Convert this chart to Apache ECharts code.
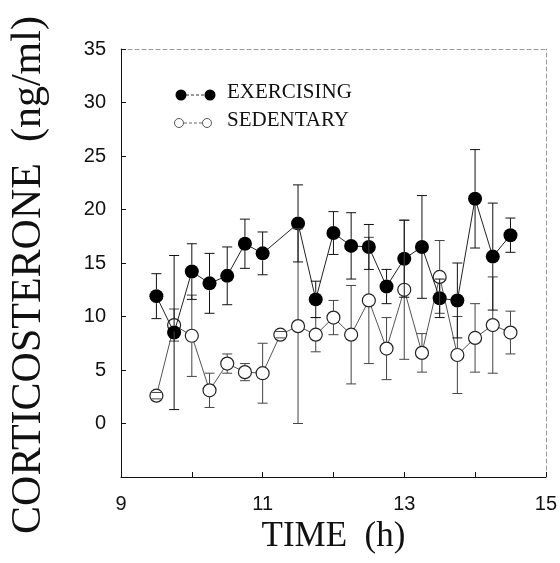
<!DOCTYPE html>
<html>
<head>
<meta charset="utf-8">
<script src="https://cdn.jsdelivr.net/npm/echarts@6/dist/echarts.min.js"></script>
<style>
html, body { margin: 0; padding: 0; background: #fff; }
#chart { width: 560px; height: 563px; }
</style>
</head>
<body>
<div id="chart"></div>
<script>
// exercising group (no sample at 11.25 h)
const exTime = [9.5, 9.75, 10, 10.25, 10.5, 10.75, 11, 11.5, 11.75, 12, 12.25, 12.5, 12.75, 13, 13.25, 13.5, 13.75, 14, 14.25, 14.5];
const exMean = [11.9, 8.5, 14.2, 13.1, 13.8, 16.8, 15.9, 18.7, 11.6, 17.8, 16.6, 16.5, 12.8, 15.4, 16.5, 11.7, 11.5, 21.0, 15.6, 17.6];
const exSem  = [2.1, 7.2, 2.6, 2.8, 2.7, 2.3, 2.0, 3.6, 1.7, 2.0, 3.1, 2.1, 1.6, 3.6, 4.8, 1.8, 3.5, 4.6, 5.0, 1.6];

// sedentary group
const sedTime = [9.5, 9.75, 10, 10.25, 10.5, 10.75, 11, 11.25, 11.5, 11.75, 12, 12.25, 12.5, 12.75, 13, 13.25, 13.5, 13.75, 14, 14.25, 14.5];
const sedMean = [2.6, 9.2, 8.2, 3.1, 5.6, 4.8, 4.7, 8.3, 9.1, 8.3, 9.9, 8.3, 11.5, 7.0, 12.5, 6.6, 13.7, 6.4, 8.0, 9.2, 8.5];
const sedSem  = [0.3, 1.5, 3.8, 1.6, 0.9, 0.8, 2.8, 0.3, 9.1, 1.6, 1.6, 4.6, 5.9, 2.9, 6.5, 1.8, 3.4, 3.6, 3.2, 4.5, 2.0];

const legendNames = ['EXERCISING', 'SEDENTARY'];

const serif = '"Liberation Serif", "DejaVu Serif", serif';
const sans = '"Liberation Sans", Arial, sans-serif';

const chart = echarts.init(document.getElementById('chart'));

// error bar: vertical line with caps, gap left where the marker sits
function errorBars(color, r) {
    return function (params, api) {
        const x = api.value(0), m = api.value(1), s = api.value(2);
        const top = api.coord([x, m + s]);
        const mid = api.coord([x, m]);
        const bot = api.coord([x, m - s]);
        const cap = 5;
        const lines = [];
        if (top[1] < mid[1] - r) lines.push([mid[0], top[1], mid[0], mid[1] - r]);
        if (bot[1] > mid[1] + r) lines.push([mid[0], mid[1] + r, mid[0], bot[1]]);
        lines.push([mid[0] - cap, top[1], mid[0] + cap, top[1]]);
        lines.push([mid[0] - cap, bot[1], mid[0] + cap, bot[1]]);
        return {
            type: 'group',
            children: lines.map(l => ({
                type: 'line',
                shape: { x1: l[0], y1: l[1], x2: l[2], y2: l[3] },
                style: { stroke: color, lineWidth: 1 }
            }))
        };
    };
}

chart.setOption({
    animation: false,
    backgroundColor: '#fff',
    grid: { left: 118, right: 14, top: 49, bottom: 86 },
    xAxis: [{
        type: 'value',
        min: 9, max: 15, interval: 2,
        name: 'TIME  (h)',
        nameLocation: 'middle',
        nameGap: 41,
        nameTextStyle: { fontFamily: serif, fontSize: 35, color: '#111' },
        axisLine: { onZero: false, lineStyle: { color: '#111', width: 1 } },
        axisTick: { inside: true, length: 5, lineStyle: { color: '#111' } },
        minorTick: { show: true, splitNumber: 2, length: 5, lineStyle: { color: '#111' } },
        axisLabel: { fontFamily: sans, fontSize: 20, color: '#111', margin: 17 },
        splitLine: { show: false }
    }, {
        type: 'value', position: 'top',
        min: 9, max: 15,
        axisLine: { show: true, onZero: false, lineStyle: { color: '#999', type: [4, 3] } },
        axisTick: { show: false }, axisLabel: { show: false }, splitLine: { show: false }
    }],
    yAxis: [{
        type: 'value',
        min: -5, max: 35, interval: 5,
        name: 'CORTICOSTERONE  (ng/ml)',
        nameLocation: 'middle',
        nameGap: 71,
        nameTextStyle: { fontFamily: serif, fontSize: 42, color: '#111', padding: [0, 24, 0, 0] },
        axisLine: { show: true, onZero: false, lineStyle: { color: '#111', width: 1 } },
        axisTick: { show: true, inside: true, length: 5, lineStyle: { color: '#111' } },
        axisLabel: {
            fontFamily: sans, fontSize: 20, color: '#111', margin: 15,
            formatter: v => (v < 0 ? '' : String(v))
        },
        splitLine: { show: false }
    }, {
        type: 'value', position: 'right',
        min: -5, max: 35,
        axisLine: { show: true, onZero: false, lineStyle: { color: '#999', type: [4, 3] } },
        axisTick: { show: false }, axisLabel: { show: false }, splitLine: { show: false }
    }],
    series: [
        {
            name: legendNames[1],
            type: 'line',
            data: sedTime.map((t, i) => [t, sedMean[i]]),
            symbol: 'circle',
            symbolSize: 13,
            itemStyle: { color: '#fff', borderColor: '#222', borderWidth: 1.2 },
            lineStyle: { color: '#555', width: 1 },
            z: 3
        },
        {
            name: legendNames[0],
            type: 'line',
            data: exTime.map((t, i) => [t, exMean[i]]),
            symbol: 'circle',
            symbolSize: 14,
            itemStyle: { color: '#000' },
            lineStyle: { color: '#222', width: 1 },
            z: 4
        },
        {
            type: 'custom',
            data: sedTime.map((t, i) => [t, sedMean[i], sedSem[i]]),
            renderItem: errorBars('#444', 6.5),
            encode: { x: 0, y: 1 },
            z: 5
        },
        {
            type: 'custom',
            data: exTime.map((t, i) => [t, exMean[i], exSem[i]]),
            renderItem: errorBars('#111', 7),
            encode: { x: 0, y: 1 },
            z: 5
        }
    ],
    graphic: [
        { type: 'line', shape: { x1: 181, y1: 95, x2: 210, y2: 95 }, style: { stroke: '#333', lineWidth: 1, lineDash: [3, 2] } },
        { type: 'circle', shape: { cx: 181, cy: 95, r: 5.5 }, style: { fill: '#000' } },
        { type: 'circle', shape: { cx: 210, cy: 95, r: 5.5 }, style: { fill: '#000' } },
        { type: 'text', left: 227, top: 82, style: { text: legendNames[0], font: '21px ' + serif, fill: '#111' } },
        { type: 'line', shape: { x1: 179, y1: 123, x2: 207, y2: 123 }, style: { stroke: '#666', lineWidth: 1, lineDash: [3, 2] } },
        { type: 'circle', shape: { cx: 179, cy: 123, r: 4.5 }, style: { fill: '#fff', stroke: '#555', lineWidth: 1 } },
        { type: 'circle', shape: { cx: 207, cy: 123, r: 4.5 }, style: { fill: '#fff', stroke: '#555', lineWidth: 1 } },
        { type: 'text', left: 227, top: 110, style: { text: legendNames[1], font: '21px ' + serif, fill: '#111' } }
    ]
});
</script>
</body>
</html>
